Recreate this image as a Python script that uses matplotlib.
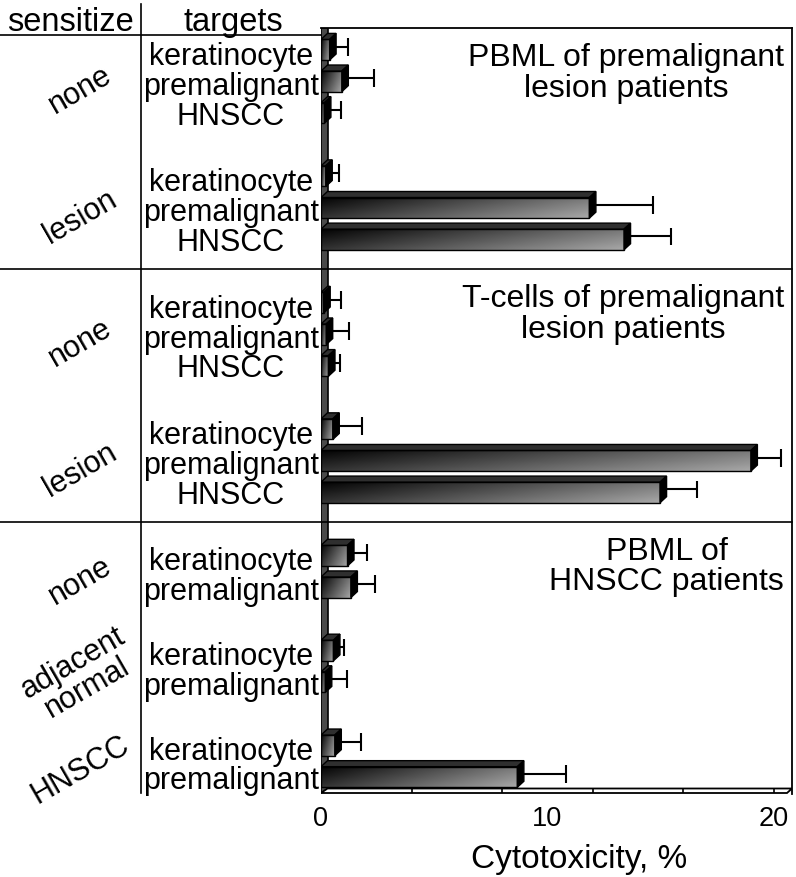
import numpy as np
import matplotlib
matplotlib.use("Agg")
import matplotlib.pyplot as plt
from matplotlib.patches import Polygon, Rectangle
from matplotlib.lines import Line2D
from matplotlib import transforms

plt.rcParams['font.family'] = ['Liberation Sans', 'DejaVu Sans']

# --- data (cytotoxicity %) ---
panel_titles = ["PBML of premalignant\nlesion patients",
                "T-cells of premalignant\nlesion patients",
                "PBML of\nHNSCC patients"]

p1_sensitize = ["none", "lesion"]
p1_targets = [["keratinocyte", "premalignant", "HNSCC"],
              ["keratinocyte", "premalignant", "HNSCC"]]
p1_values = [[0.38, 0.92, 0.15], [0.21, 11.85, 13.38]]
p1_errors = [[0.80, 1.42, 0.72], [0.60, 2.82, 2.07]]

p2_sensitize = ["none", "lesion"]
p2_targets = [["keratinocyte", "premalignant", "HNSCC"],
              ["keratinocyte", "premalignant", "HNSCC"]]
p2_values = [[0.12, 0.23, 0.33], [0.52, 18.98, 14.97]]
p2_errors = [[0.75, 1.02, 0.51], [1.30, 1.32, 1.64]]

p3_sensitize = ["none", "adjacent\nnormal", "HNSCC"]
p3_targets = [["keratinocyte", "premalignant"],
              ["keratinocyte", "premalignant"],
              ["keratinocyte", "premalignant"]]
p3_values = [[1.17, 1.32], [0.55, 0.19], [0.61, 8.67]]
p3_errors = [[0.85, 1.06], [0.47, 0.94], [1.16, 2.15]]

xticks = [0, 10, 20]
floor_ticks = [4, 8, 12, 16, 20]

panels = [
    (panel_titles[0], p1_sensitize, p1_targets, p1_values, p1_errors),
    (panel_titles[1], p2_sensitize, p2_targets, p2_values, p2_errors),
    (panel_titles[2], p3_sensitize, p3_targets, p3_values, p3_errors),
]

W, H = 796, 878
fig = plt.figure(figsize=(W / 100, H / 100), dpi=100)

# plot box in pixels
L, R, T, B = 321, 792, 29, 795
ax = fig.add_axes([L / W, 1 - B / H, (R - L) / W, (B - T) / H])

sx = 22.65          # px per %
sy = 31.62          # px per bar slot
y0 = 50.7           # pixel row of first bar slot
xmax = (R - L) / sx
ytop = (T - y0) / sy
ybot = (B - y0) / sy
ax.set_xlim(0, xmax)
ax.set_ylim(ybot, ytop)

ddx = 6.5 / sx      # 3d depth
ddy = 6.0 / sy
hh = 10.3 / sy      # half height of front face

blend = transforms.blended_transform_factory(fig.transFigure, ax.transData)


def fx(px):
    return px / W


def fy(px):
    return 1 - px / H


# gradient for the front faces
gx, gy = np.meshgrid(np.linspace(0, 1, 60), np.linspace(0, 1, 12))
grad = 0.02 + 0.45 * gx + 0.18 * gy


def bar3d(k, v, e):
    ax.imshow(grad, extent=(0, v, k + hh, k - hh), cmap='gray', vmin=0, vmax=1,
              aspect='auto', interpolation='bilinear', zorder=3)
    ax.add_patch(Rectangle((0, k - hh), v, 2 * hh, fill=False,
                           edgecolor='black', lw=1.0, zorder=4))
    ax.add_patch(Polygon([(0, k - hh), (v, k - hh), (v + ddx, k - hh - ddy),
                          (ddx, k - hh - ddy)], closed=True,
                         facecolor='#2f2f2f', edgecolor='black', lw=1.0, zorder=4))
    ax.add_patch(Polygon([(v, k - hh), (v + ddx, k - hh - ddy),
                          (v + ddx, k + hh - ddy), (v, k + hh)], closed=True,
                         facecolor='black', edgecolor='black', lw=1.0, zorder=4))
    ye = k - ddy / 2
    ax.hlines(ye, v, v + e, color='black', lw=1.5, zorder=2)
    ax.vlines(v + e, ye - 0.28, ye + 0.28, color='black', lw=1.5, zorder=2)


slot = 0
panel_top = ytop
for title, sens, targets, values, errors in panels:
    ax.text(fx(784), panel_top + 14 / sy, title, transform=blend,
            ha='right', va='top', multialignment='center', fontsize=23,
            linespacing=1.03, zorder=6)
    for s, tg, vals, errs in zip(sens, targets, values, errors):
        ks = np.arange(slot, slot + len(tg))
        for k, v, e in zip(ks, vals, errs):
            bar3d(k, v, e)
        center = ks.mean()
        t = fig.text(fx(231), 0, "\n".join(tg), transform=blend,
                     ha='center', va='center', fontsize=22, linespacing=0.99)
        t.set_y(center + 0.14)
        t = fig.text(fx(80), 0, s, transform=blend, rotation=30,
                     ha='center', va='center', multialignment='center',
                     fontsize=22, linespacing=0.95)
        t.set_y(center + 0.26)
        slot += len(tg) + 1
    sep = slot - 1.07
    if slot < 24:
        fig.add_artist(Line2D([0, fx(R)], [sep, sep], transform=blend,
                              color='black', lw=1.2))
    panel_top = sep

# left wall and floor
fdy = 4.5 / sy
fdx = 5.0 / sx
yb = ybot - 1.0 / sy
ax.add_patch(Polygon([(0, yb), (0, ytop), (ddx, ytop), (ddx, yb - fdy)],
                     closed=True, facecolor='#4a4a4a', edgecolor='black',
                     lw=1.2, zorder=1))
ax.add_patch(Polygon([(0, yb), (xmax - fdx, yb), (xmax, yb - fdy), (ddx, yb - fdy)],
                     closed=True, facecolor='white', edgecolor='black',
                     lw=1.3, zorder=2))
ax.vlines(floor_ticks, yb - fdy, yb, color='black', lw=1.2, zorder=2)

ax.set_xticks(xticks)
ax.set_xticklabels([str(t) for t in xticks])
ax.set_yticks([])
ax.tick_params(axis='x', length=0, pad=8.0, labelsize=19.5)
for side in ['left', 'bottom']:
    ax.spines[side].set_visible(False)
for side in ['top', 'right']:
    ax.spines[side].set_linewidth(1.3)

# table header and lines on the left
fig.text(fx(70), fy(31), "sensitize", ha='center', va='baseline', fontsize=23.5)
fig.text(fx(233), fy(31), "targets", ha='center', va='baseline', fontsize=23.5)
fig.add_artist(Line2D([0, fx(L)], [fy(36), fy(36)], color='black', lw=1.2))
fig.add_artist(Line2D([fx(141), fx(141)], [fy(5), fy(794)], color='black', lw=1.2))

fig.text(fx(579), fy(868), "Cytotoxicity, %", ha='center', va='baseline', fontsize=24)

fig.savefig("out.png", dpi=100)
